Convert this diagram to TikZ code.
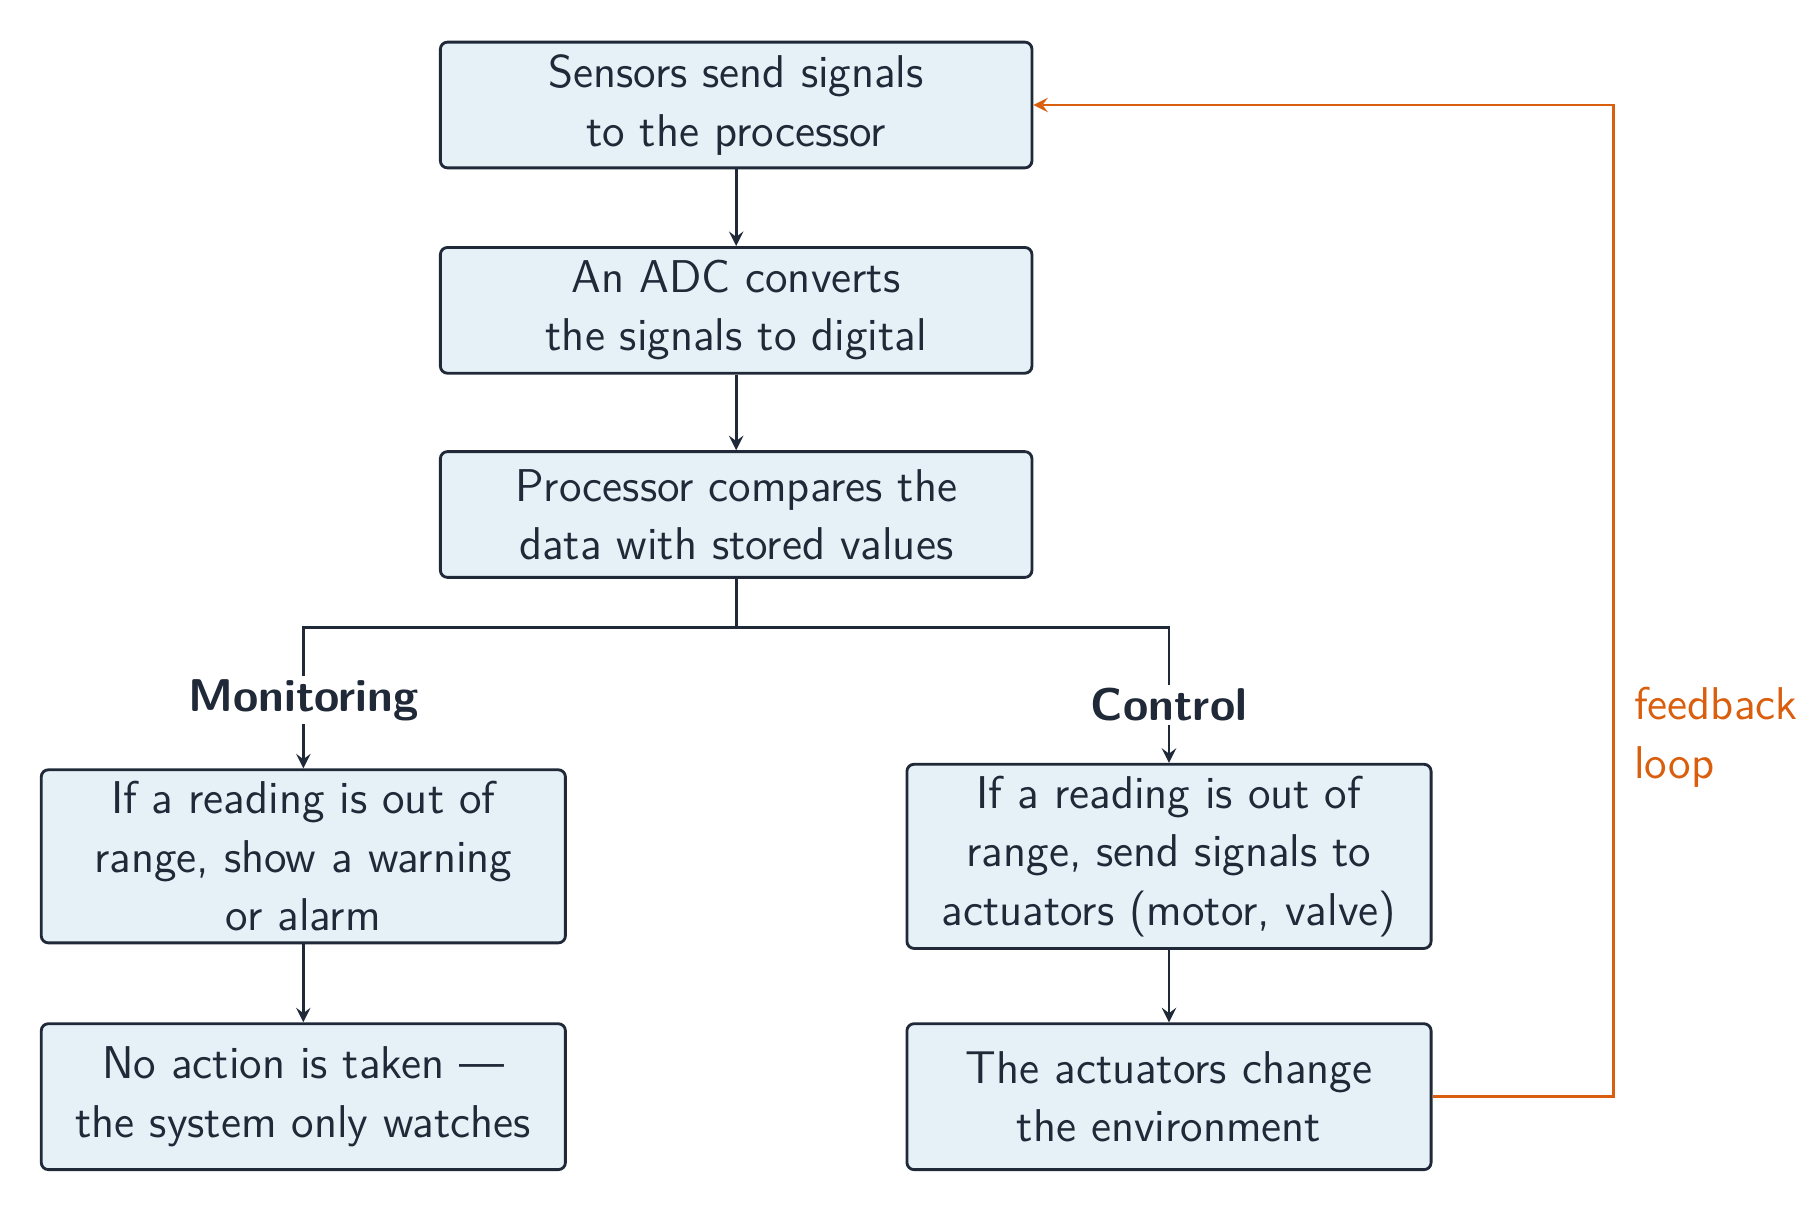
\documentclass[tikz,border=0pt]{standalone}
\usepackage{fontspec}
\setmainfont{Latin Modern Sans}
\usetikzlibrary{positioning}
\usetikzlibrary{calc}
\definecolor{mbox}{RGB}{230,240,247}
\definecolor{mline}{RGB}{31,41,55}
\definecolor{morange}{RGB}{217,95,14}
\begin{document}
\begin{tikzpicture}[x=0.0116cm, y=-0.0116cm,
    stage/.style={draw=mline, thick, rounded corners=2pt, fill=mbox, align=center, text=mline, font=\fontsize{13}{16.5}\selectfont, minimum width=5.88cm, minimum height=1.25cm},
    wide/.style={stage, minimum width=5.21cm},
    arrow/.style={-stealth, thick, draw=mline},
    tag/.style={text=mline, font=\fontsize{13}{16}\selectfont\bfseries},
]
\useasboundingbox (0,0) rectangle (1560,1034);
\node[stage] (sensors) at (631,90) {Sensors send signals\\to the processor};
\node[stage] (adc) at (631,266) {An ADC converts\\the signals to digital};
\node[stage] (proc) at (631,441) {Processor compares the\\data with stored values};
\node[wide, minimum height=1.67cm] (warn) at (260,734) {If a reading is out of\\range, show a warning\\or alarm};
\node[wide, minimum height=1.45cm] (watch) at (260,940) {No action is taken ---\\the system only watches};
\node[wide, minimum height=1.76cm] (act) at (1002,734) {If a reading is out of\\range, send signals to\\actuators (motor, valve)};
\node[wide, minimum height=1.45cm] (env) at (1002,940) {The actuators change\\the environment};

\coordinate (split) at (631,538);
\coordinate (loop) at (1383,940);

\draw[arrow] (sensors) -- (adc);
\draw[arrow] (adc) -- (proc);
\draw[arrow] (proc.south) -- (split) -| (warn.north);
\draw[arrow] (split) -| (act.north);
\draw[arrow] (warn) -- (watch);
\draw[arrow] (act) -- (env);

\node[tag, fill=white, inner sep=1pt] (mon) at (260,600) {Monitoring};
\node[tag, fill=white, inner sep=1pt] (ctl) at (1002,604) {Control};

\draw[-stealth, thick, draw=morange] (env.east) -- (loop) |- (sensors.east);
\node[text=morange, align=left, anchor=west, font=\fontsize{13}{16.5}\selectfont] (fb) at (1390,632) {feedback\\loop};
\end{tikzpicture}
\end{document}
